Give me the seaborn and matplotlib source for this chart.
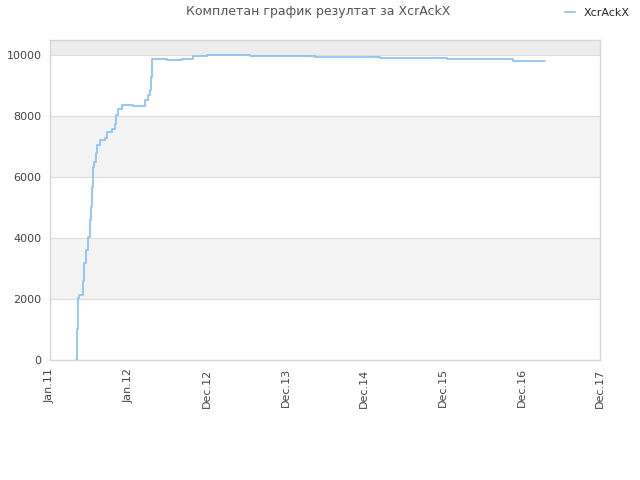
import matplotlib
matplotlib.use("Agg")
import matplotlib.pyplot as plt
import seaborn as sns
import pandas as pd

# position on the x axis (0 = Jan.11, one unit per tick label) and score after each step
steps_x = [0.335, 0.340, 0.353, 0.370, 0.420, 0.429, 0.460, 0.487, 0.509, 0.522,
           0.538, 0.543, 0.564, 0.582, 0.602, 0.636, 0.700, 0.722, 0.785, 0.827,
           0.840, 0.869, 0.913, 1.060, 1.209, 1.251, 1.273, 1.285, 1.294, 1.485,
           1.676, 1.824, 1.994, 2.546, 3.373, 4.200, 5.049, 5.897, 6.300]
scores = [0, 1007, 2043, 2131, 2600, 3170, 3600, 4043, 4590, 5026,
          5683, 6339, 6503, 6776, 7049, 7213, 7268, 7486, 7596, 7760,
          8033, 8252, 8383, 8328, 8525, 8689, 8852, 9289, 9891, 9858,
          9880, 9967, 10023, 9967, 9934, 9902, 9869, 9826, 9826]
tick_labels = ["Jan.11", "Jan.12", "Dec.12", "Dec.13", "Dec.14", "Dec.15", "Dec.16", "Dec.17"]
y_ticks = [0, 2000, 4000, 6000, 8000, 10000]

PLAYER = "XcrAckX"
LINE_COLOR = "#8fc3f5"

sns.set_style("white")
plt.rcParams["font.family"] = ["DejaVu Sans"]

df = pd.DataFrame({"x": steps_x, "score": scores})

fig = plt.figure(figsize=(6.4, 4.8), dpi=100)
ax = fig.add_axes([50 / 640, 120 / 480, 550 / 640, 320 / 480])

# alternating background bands
ymax = 10500
edges = y_ticks + [ymax]
for i in range(len(edges) - 1):
    if i % 2 == 1:
        shade = "#ededed" if i == len(edges) - 2 else "#f3f3f3"
        ax.axhspan(edges[i], edges[i + 1], color=shade, zorder=0, lw=0)
for t in y_ticks:
    ax.axhline(t, color="#dddddd", lw=0.8, zorder=1)

sns.lineplot(data=df, x="x", y="score", ax=ax, color=LINE_COLOR, lw=1.3,
             drawstyle="steps-post", label=PLAYER, legend=False, zorder=3)

ax.set_xlim(0, len(tick_labels) - 1)
ax.set_ylim(0, ymax)
ax.set_xticks(range(len(tick_labels)))
ax.set_xticklabels(tick_labels, rotation=90, fontsize=8, color="#444444")
ax.set_yticks(y_ticks)
ax.set_yticklabels([str(t) for t in y_ticks], fontsize=8, color="#444444")
ax.tick_params(length=0, pad=6)
ax.set_xlabel("")
ax.set_ylabel("")
for s in ax.spines.values():
    s.set_color("#d6d6d6")
    s.set_linewidth(1)

fig.text(318 / 640, 1 - 12 / 480, f"Комплетан график резултат за {PLAYER}",
         ha="center", va="center", fontsize=9, color="#555555")
h, l = ax.get_legend_handles_labels()
fig.legend(h, l, loc="center right", bbox_to_anchor=(1.0, 1 - 13 / 480),
           frameon=False, fontsize=8, handlelength=0.9, handletextpad=0.8)

fig.savefig("out.png", dpi=100)
